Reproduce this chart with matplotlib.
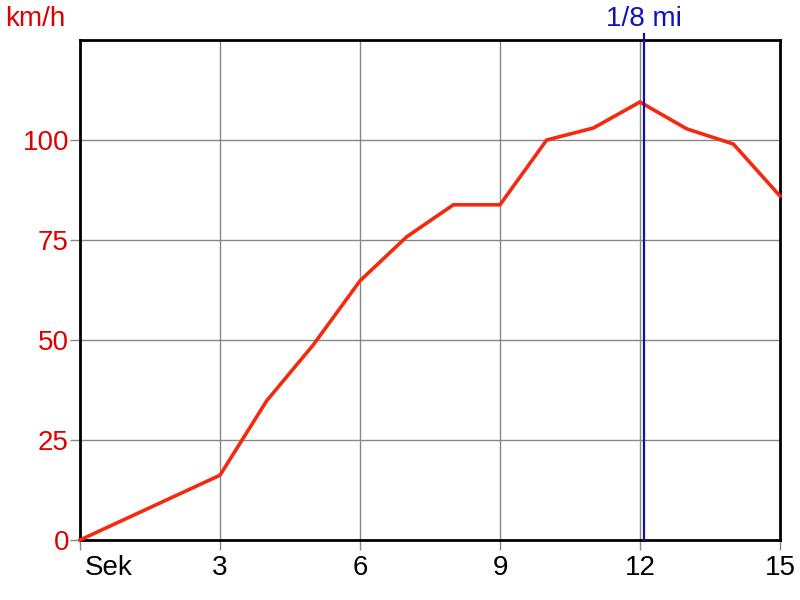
import matplotlib.pyplot as plt
from matplotlib.transforms import ScaledTranslation

plt.rcParams['font.family'] = ['Liberation Sans', 'DejaVu Sans']

sek = [0, 1, 2, 3, 4, 5, 6, 7, 8, 9, 10, 11, 12, 13, 14, 15]
kmh = [0, 5.4, 10.8, 16.2, 34.8, 48.8, 64.8, 75.8, 83.8, 83.8, 100, 103, 109.5, 102.8, 99, 86]
x_ticks = [0, 3, 6, 9, 12, 15]
x_labels = ['Sek', '3', '6', '9', '12', '15']
y_ticks = [0, 25, 50, 75, 100]
mile_mark = 12.09

fig = plt.figure(figsize=(8, 6), dpi=100)
ax = fig.add_axes([0.1, 0.1, 0.875, 0.8333])

ax.plot(sek, kmh, color='#f42a10', lw=2.6, solid_joinstyle='miter', clip_on=False, zorder=3)
ax.axvline(mile_mark, ymin=0, ymax=1.012, color='#1010b0', lw=1.6, clip_on=False, zorder=4)

ax.set_xlim(0, 15)
ax.set_ylim(0, 125)
ax.set_xticks(x_ticks)
ax.set_xticklabels(x_labels)
ax.set_yticks(y_ticks)
ax.grid(True, color='#888888', lw=1)
ax.tick_params(axis='both', direction='out', length=7, width=1, color='#888888',
               labelsize=20)
ax.tick_params(axis='y', labelcolor='#e00000', pad=1)
ax.tick_params(axis='x', labelcolor='black', pad=4)

# "Sek" sits just right of the origin
sek_label = ax.get_xticklabels()[0]
sek_label.set_horizontalalignment('left')
sek_label.set_transform(sek_label.get_transform() + ScaledTranslation(0.05, 0, fig.dpi_scale_trans))

for s in ax.spines.values():
    s.set_color('black')
    s.set_linewidth(2)

fig.text(0.006, 0.968, 'km/h', color='#e00000', fontsize=20, ha='left', va='center')
fig.text(mile_mark / 15 * 0.875 + 0.1, 0.968, '1/8 mi', color='#1010c0', fontsize=20,
         ha='center', va='center')

fig.savefig('out.png', dpi=100)
